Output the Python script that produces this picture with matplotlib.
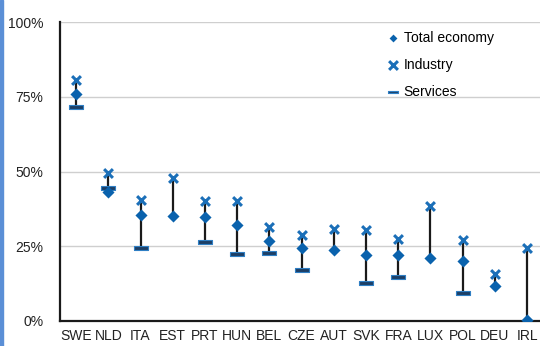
import matplotlib
matplotlib.use("Agg")
import matplotlib.pyplot as plt
from matplotlib.patches import Rectangle
import numpy as np

plt.rcParams['font.family'] = ['Liberation Sans', 'DejaVu Sans']

countries = ["SWE", "NLD", "ITA", "EST", "PRT", "HUN", "BEL", "CZE", "AUT",
             "SVK", "FRA", "LUX", "POL", "DEU", "IRL"]
total_economy = [75.8, 43.0, 35.5, 35.1, 34.8, 32.1, 26.8, 24.4, 23.6,
                 22.1, 22.1, 21.0, 20.2, 11.8, 0.3]
industry = [80.6, 49.6, 40.5, 47.9, 40.1, 40.1, 31.3, 28.7, 30.8,
            30.5, 27.4, 38.5, 27.0, 15.7, 24.4]
services = [71.7, 44.4, 24.4, np.nan, 26.3, 22.3, 22.7, 17.2, np.nan,
            12.7, 14.7, np.nan, 9.4, np.nan, np.nan]
yticks = [0, 25, 50, 75, 100]
ytick_labels = ["0%", "25%", "50%", "75%", "100%"]

W, H = 540, 346
fig = plt.figure(figsize=(W / 100, H / 100), dpi=100)
ax = fig.add_axes([60 / W, (H - 321) / H, (540 - 60) / W, (321 - 22) / H])

x = np.arange(len(countries))
blue_d = "#0a62ad"
blue_x = "#1b6fb8"
navy = "#1c3f66"

# range lines
for i in range(len(countries)):
    vals = [v for v in (total_economy[i], industry[i], services[i]) if not np.isnan(v)]
    ax.plot([x[i], x[i]], [min(vals), max(vals)], color="#1a1a1a", lw=1.6,
            zorder=2, solid_capstyle="butt")

dash = [(-1, -0.25), (1, -0.25), (1, 0.25), (-1, 0.25), (-1, -0.25)]
ax.scatter(x, services, marker=dash, s=90, facecolor=navy, edgecolor="#2f7fc4",
           linewidths=0.8, zorder=3, label="Services")
ax.scatter(x, industry, marker="x", s=40, color=blue_x, linewidths=2.2,
           zorder=4, label="Industry")
ax.scatter(x, total_economy, marker="D", s=38, color=blue_d, linewidths=0,
           zorder=5, label="Total economy")

ax.set_xlim(-0.5, 14.4)
ax.set_ylim(0, 100)
ax.set_yticks(yticks)
ax.set_yticklabels(ytick_labels)
ax.set_xticks(x)
ax.set_xticklabels(countries)
ax.tick_params(axis="both", length=0, labelsize=10, colors="#222222")
ax.tick_params(axis="y", pad=12)
ax.tick_params(axis="x", pad=6)
ax.yaxis.grid(True, color="#cfcfcf", lw=1)
ax.set_axisbelow(True)
for s in ("top", "right"):
    ax.spines[s].set_visible(False)
for s in ("left", "bottom"):
    ax.spines[s].set_color("#1a1a1a")
    ax.spines[s].set_linewidth(1.6)

handles, labels = ax.get_legend_handles_labels()
order = [2, 1, 0]
leg = ax.legend([handles[i] for i in order], [labels[i] for i in order],
                loc="upper left", bbox_to_anchor=(387 / W, (H - 31) / H),
                bbox_transform=fig.transFigure, frameon=False, fontsize=10,
                handlelength=0.9, handletextpad=0.3, labelspacing=0.92,
                borderpad=0, borderaxespad=0)
leg.legend_handles[0].set_sizes([16])
leg.legend_handles[2].set_sizes([60])

fig.patches.append(Rectangle((0, 0), 3 / W, 1, transform=fig.transFigure,
                             color="#5b8fd6", zorder=10))

fig.savefig("out.png", dpi=100)
